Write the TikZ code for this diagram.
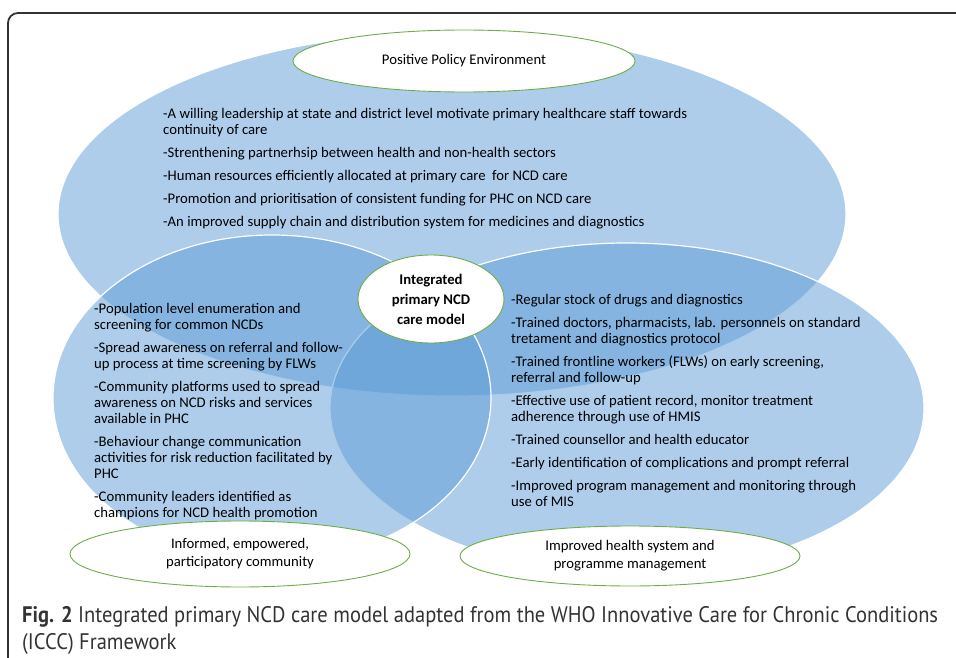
\documentclass[tikz,border=0pt]{standalone}
\usepackage{fontspec}
\setmainfont{Carlito}
\newfontfamily\capfont{PT Sans}
\usetikzlibrary{shapes.geometric}
\definecolor{venn}{HTML}{5B9BD5}
\definecolor{rim}{HTML}{70AD47}
\tikzset{
  bubble/.style={fill=venn, fill opacity=0.5, draw=white, line width=1.2pt},
  tag/.style={ellipse, draw=rim, fill=white, line width=0.9pt, inner sep=0pt,
    align=center, font=\fontsize{14.7}{18}\selectfont},
  items/.style={anchor=north west, align=left, inner sep=0pt,
    font=\fontsize{14.7}{16}\selectfont},
}
\begin{document}
\begin{tikzpicture}[x=1pt, y=-1pt]
    \useasboundingbox (0,0) rectangle (956,658);
    \clip (0,0) rectangle (956,658);
    % outer frame
    \draw[black!80, line width=1.8pt, rounded corners=10pt] (8,700) |- (1000,13);

    % three overlapping fields
    \draw[bubble] (452,214) ellipse (394 and 182);
    \draw[bubble] (627,408) ellipse (297 and 165);
    \draw[bubble] (272,398) ellipse (219 and 163);

    % field labels
    \node[tag, minimum width=342pt, minimum height=62pt] (policy) at (464,61)
      {Positive Policy Environment};
    \node[tag, minimum width=146pt, minimum height=88pt,
      font=\bfseries\fontsize{14.7}{20}\selectfont] (core) at (431,299)
      {Integrated\\primary NCD\\care model};
    \node[tag, minimum width=340pt, minimum height=66pt] (community) at (240,554)
      {Informed, empowered,\\participatory community};
    \node[tag, minimum width=340pt, minimum height=60pt] (system) at (630,556)
      {Improved health system and\\programme management};

    % lists of actions
    \node[items] (policylist) at (163,108)
      {-A willing leadership at state and district level motivate primary healthcare staff towards\\
       continuity of care\\[7pt]
       -Strenthening partnerhsip between health and non-health sectors\\[7pt]
       -Human resources efficiently allocated at primary care \ for NCD care\\[7pt]
       -Promotion and prioritisation of consistent funding for PHC on NCD care\\[7pt]
       -An improved supply chain and distribution system for medicines and diagnostics};
    \node[items] (communitylist) at (94,303)
      {-Population level enumeration and\\
       screening for common NCDs\\[7pt]
       -Spread awareness on referral and follow-\\
       up process at time screening by FLWs\\[7pt]
       -Community platforms used to spread\\
       awareness on NCD risks and services\\
       available in PHC\\[7pt]
       -Behaviour change communication\\
       activities for risk reduction facilitated by\\
       PHC\\[7pt]
       -Community leaders identified as\\
       champions for NCD health promotion};
    \node[items] (systemlist) at (511,294)
      {-Regular stock of drugs and diagnostics\\[7pt]
       -Trained doctors, pharmacists, lab. personnels on standard\\
       tretament and diagnostics protocol\\[7pt]
       -Trained frontline workers (FLWs) on early screening,\\
       referral and follow-up\\[7pt]
       -Effective use of patient record, monitor treatment\\
       adherence through use of HMIS\\[7pt]
       -Trained counsellor and health educator\\[7pt]
       -Early identification of complications and prompt referral\\[7pt]
       -Improved program management and monitoring through\\
       use of MIS};

    % caption
    \node[anchor=north west, inner sep=0pt, align=left, text=black!80,
      font=\capfont\fontsize{22.5}{27}\selectfont] (caption) at (22,606)
      {\scalebox{0.912}[1]{\textbf{Fig. 2} Integrated primary NCD care model adapted from the WHO Innovative Care for Chronic Conditions}\\
       \scalebox{0.912}[1]{(ICCC) Framework}};
\end{tikzpicture}
\end{document}
